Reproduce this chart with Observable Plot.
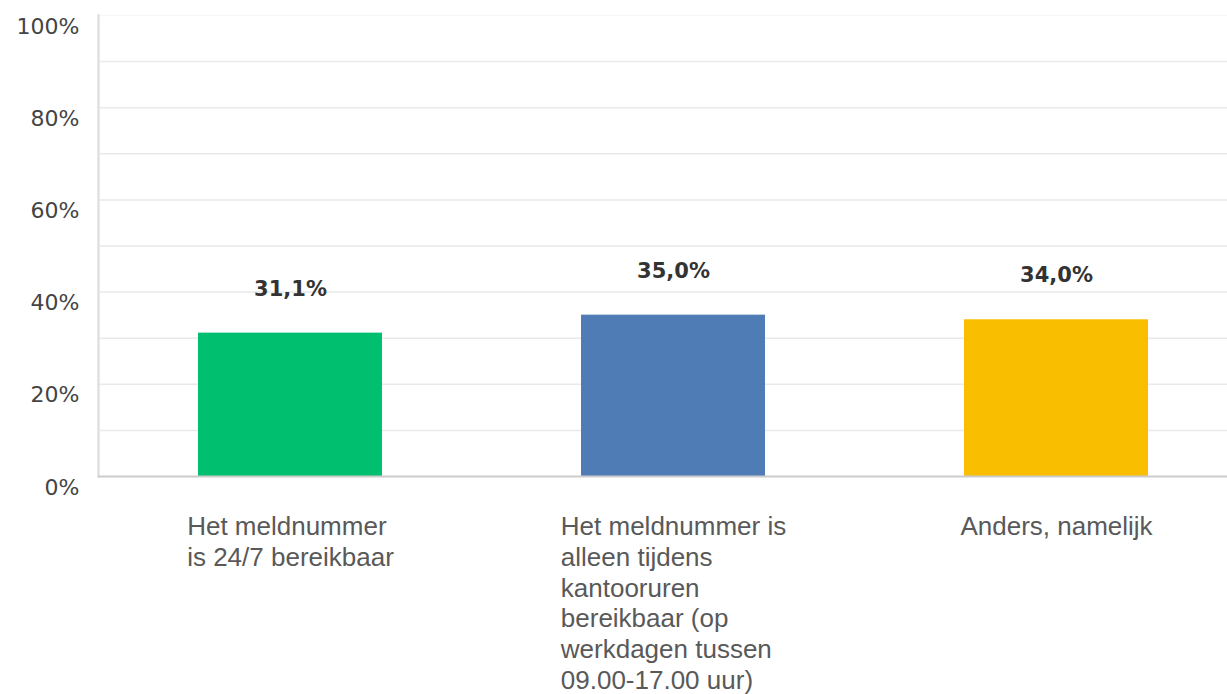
<!DOCTYPE html>
<html>
<head>
<meta charset="utf-8">
<script src="https://cdn.jsdelivr.net/npm/d3@7"></script>
<script src="https://cdn.jsdelivr.net/npm/@observablehq/plot@0.6"></script>
<style>
  html, body { margin: 0; padding: 0; background: #ffffff; }
  #chart { width: 1227px; height: 694px; }
</style>
</head>
<body>
<div id="chart"></div>
<script>
// Data
const categories = [
  "Het meldnummer is 24/7 bereikbaar",
  "Het meldnummer is alleen tijdens kantooruren bereikbaar (op werkdagen tussen 09.00-17.00 uur)",
  "Anders, namelijk"
];
const tickLabels = [
  "Het meldnummer\nis 24/7 bereikbaar",
  "Het meldnummer is\nalleen tijdens\nkantooruren\nbereikbaar (op\nwerkdagen tussen\n09.00-17.00 uur)",
  "Anders, namelijk"
];
const values = [31.1, 35.0, 34.0];
const colors = ["#00BF6F", "#507CB6", "#F9BE00"];
const yTicks = [0, 20, 40, 60, 80, 100];
const gridTicks = [10, 20, 30, 40, 50, 60, 70, 80, 90];

const data = categories.map((c, i) => ({category: c, label: tickLabels[i], value: values[i], color: colors[i]}));
const fmt = v => v.toFixed(1).replace(".", ",") + "%";

const chart = Plot.plot({
  width: 1227,
  height: 694,
  marginLeft: 98,
  marginRight: 0,
  marginTop: 15,
  marginBottom: 218,
  style: {background: "#ffffff", overflow: "visible"},
  x: {domain: categories, range: [98, 1247], paddingInner: 0.52, paddingOuter: 0.26, axis: null},
  y: {domain: [0, 100], axis: null},
  marks: [
    Plot.ruleY([100], {stroke: "#f6f6f6", strokeWidth: 1.5}),
    Plot.gridY(gridTicks, {stroke: "#e9e9e9", strokeOpacity: 1, strokeWidth: 1.5}),
    Plot.barY(data, {x: "category", y: "value", fill: "color"}),
    Plot.frame({anchor: "left", stroke: "#e0e0e0", strokeWidth: 2.5}),
    Plot.ruleY([0], {stroke: "#cccccc", strokeWidth: 2}),
    Plot.axisY(yTicks, {
      tickSize: 0, tickPadding: 19, dy: 11, label: null,
      tickFormat: d => d + "%",
      fontSize: 22, fontFamily: "DejaVu Sans", fill: "#444444"
    }),
    Plot.text(data, {
      x: "category", y: "value", text: d => fmt(d.value),
      dy: -44, fontSize: 21, fontWeight: 600, fontFamily: "DejaVu Sans", fill: "#333333"
    }),
    Plot.text(data, {
      x: "category", y: 0, text: "label",
      lineAnchor: "top", dy: 37, lineHeight: 1.18,
      fontSize: 26, fontFamily: "Liberation Sans", fill: "#595959",
      className: "catlabel"
    })
  ]
});

document.getElementById("chart").appendChild(chart);

// left-align lines of each category label block, keeping block centred on the band
chart.querySelectorAll(".catlabel text, g.catlabel text").forEach(t => {
  const bb = t.getBBox();
  t.setAttribute("text-anchor", "start");
  const spans = t.querySelectorAll("tspan");
  if (spans.length) spans.forEach(s => s.setAttribute("x", bb.x));
  else t.setAttribute("x", bb.x);
});
</script>
</body>
</html>
